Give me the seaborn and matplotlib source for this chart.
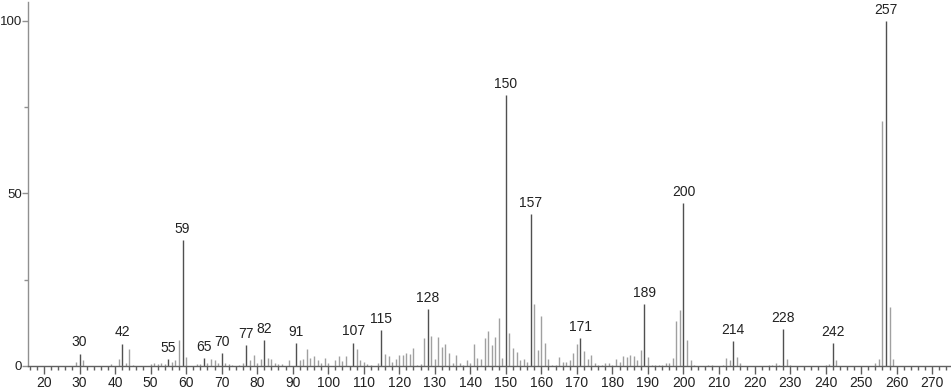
import matplotlib
matplotlib.use("Agg")
import matplotlib.pyplot as plt
import seaborn as sns
import numpy as np
from matplotlib.ticker import MultipleLocator, FixedLocator

mz = [29, 30, 31, 39, 41, 42, 43, 44, 45, 50, 51, 52, 53, 54, 55, 56, 57, 58, 59, 60,
      63, 64, 65, 66, 67, 68, 69, 70, 71, 72, 73, 75, 76, 77, 78, 79, 80, 81, 82, 83,
      84, 85, 86, 87, 89, 91, 92, 93, 94, 95, 96, 97, 98, 99, 100, 102, 103, 104, 105,
      107, 108, 109, 110, 111, 112, 114, 115, 116, 117, 118, 119, 120, 121, 122, 123,
      124, 125, 126, 127, 128, 129, 130, 131, 132, 133, 134, 135, 136, 137, 138, 139,
      140, 141, 142, 143, 144, 145, 146, 147, 148, 149, 150, 151, 152, 153, 154, 155,
      156, 157, 158, 159, 160, 161, 162, 163, 164, 165, 166, 167, 168, 169, 170, 171,
      172, 173, 174, 175, 176, 177, 178, 179, 180, 181, 182, 183, 184, 185, 186, 187,
      188, 189, 190, 191, 192, 193, 194, 195, 196, 197, 198, 199, 200, 201, 202, 203,
      207, 208, 211, 212, 213, 214, 215, 216, 224, 225, 226, 227, 228, 229, 230, 240,
      241, 242, 243, 254, 255, 256, 257, 258, 259]
intensity = [1.2, 3.6, 1.7, 0.7, 1.9, 6.5, 1.0, 5.0, 0.3, 0.5, 0.9, 0.5, 1.0, 0.5, 2.0, 1.2, 1.6, 7.4, 36.5, 2.7,
             0.7, 0.5, 2.2, 0.9, 2.0, 1.7, 0.8, 3.8, 0.8, 0.6, 0.3, 0.3, 1.0, 6.1, 1.8, 3.3, 1.0, 2.0, 7.5, 2.4,
             2.0, 0.9, 0.5, 0.5, 1.6, 6.6, 1.7, 2.0, 4.9, 2.3, 2.9, 1.6, 1.0, 2.4, 0.9, 1.6, 3.0, 1.4, 3.0,
             6.8, 4.8, 1.6, 1.1, 0.5, 0.4, 1.0, 10.5, 3.5, 3.0, 1.3, 1.9, 3.3, 3.3, 3.9, 3.5,
             5.1, 0.4, 0.7, 8.2, 16.5, 8.8, 2.1, 8.4, 5.6, 6.5, 3.9, 1.0, 3.2, 0.8, 0.4, 1.6,
             0.8, 6.5, 2.3, 1.9, 8.2, 10.1, 6.2, 8.4, 13.9, 2.4, 78.5, 9.6, 5.2, 4.1, 1.6, 1.9,
             1.3, 44.0, 18.1, 4.7, 14.6, 6.6, 2.0, 0.4, 0.4, 2.7, 1.1, 1.3, 1.7, 3.9, 6.3, 8.2,
             4.3, 1.9, 3.2, 0.8, 0.4, 0.4, 0.8, 0.8, 0.4, 2.1, 1.3, 3.0, 2.7, 3.2, 3.0, 1.7,
             4.7, 18.0, 2.7, 0.4, 0.3, 0.3, 0.3, 0.8, 1.0, 2.4, 12.9, 16.3, 47.3, 7.6, 1.8, 0.4,
             0.4, 0.3, 0.3, 2.4, 1.8, 7.3, 2.7, 0.9, 0.4, 0.4, 1.0, 0.4, 10.8, 2.1, 0.3, 0.4,
             0.5, 6.6, 1.7, 0.8, 2.1, 71.0, 100.0, 17.1, 2.1]
labeled = [30, 42, 55, 59, 65, 70, 77, 82, 91, 107, 115, 128, 150, 157, 171, 189, 200, 214, 228, 242, 257]
x_ticks = list(range(20, 271, 10))
y_ticks = [0, 50, 100]

sns.set_theme(style="white")
plt.rcParams['font.family'] = ['Liberation Sans', 'DejaVu Sans']

fig = plt.figure(figsize=(9.51, 3.89), dpi=100)
ax = fig.add_axes([28 / 951, 23 / 389, 923 / 951, 364 / 389])

mz_a = np.array(mz)
int_a = np.array(intensity)
is_lab = np.isin(mz_a, labeled)

ax.vlines(mz_a[~is_lab], 0, int_a[~is_lab], colors="#a0a0a0", linewidth=1.0)
ax.vlines(mz_a[is_lab], 0, int_a[is_lab], colors="#505050", linewidth=1.0)

for m, v in zip(mz_a[is_lab], int_a[is_lab]):
    ax.annotate(str(m), (m, v), xytext=(0, 3), textcoords="offset points",
                ha="center", va="bottom", fontsize=10, color="#222222")

ax.set_xlim(15.5, 275.3)
ax.set_ylim(0, 105.5)

ax.xaxis.set_major_locator(FixedLocator(x_ticks))
ax.xaxis.set_minor_locator(MultipleLocator(2))
ax.yaxis.set_major_locator(FixedLocator(y_ticks))
ax.yaxis.set_minor_locator(FixedLocator([25, 75]))

for s in ["top", "right"]:
    ax.spines[s].set_visible(False)
ax.spines["left"].set_color("#909090")
ax.spines["bottom"].set_color("#606060")
ax.spines["left"].set_linewidth(1.0)
ax.spines["bottom"].set_linewidth(1.0)

ax.tick_params(axis="x", which="major", direction="out", length=6, width=1,
               color="#606060", labelsize=10, labelcolor="#222222", pad=1, bottom=True)
ax.tick_params(axis="x", which="minor", direction="out", length=3, width=1,
               color="#606060", bottom=True)
ax.tick_params(axis="y", which="major", direction="out", length=4, width=1,
               color="#909090", labelsize=9.5, labelcolor="#222222", pad=0.5, left=True)
ax.tick_params(axis="y", which="minor", direction="out", length=3, width=1,
               color="#909090", left=True)
ax.grid(False)
ax.set_facecolor("white")

fig.savefig("out.png", dpi=100, facecolor="white")
